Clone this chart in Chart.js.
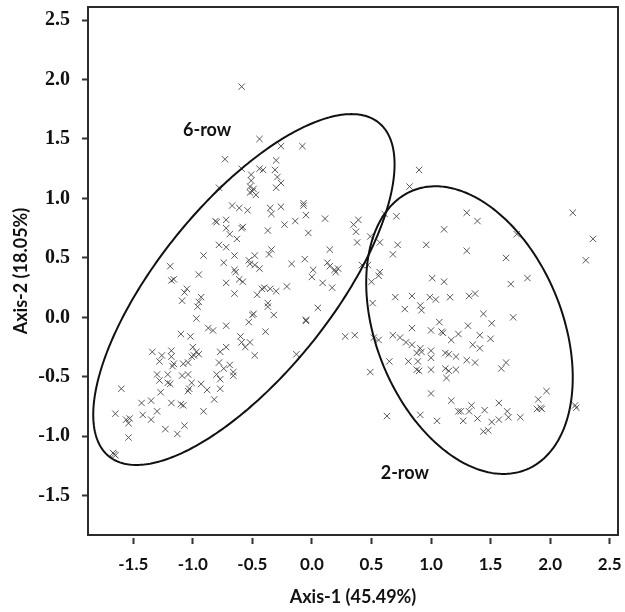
<!DOCTYPE html>
<html><head><meta charset="utf-8">
<style>html,body{margin:0;padding:0;background:#fff;}#wrap{width:625px;height:612px;}</style>
<script src="https://cdn.jsdelivr.net/npm/chart.js@4.4.0/dist/chart.umd.min.js"></script>
</head><body><div id="wrap"><canvas id="c" width="625" height="612"></canvas></div>
<script>
// PCA scores: Axis-1 (x) and Axis-2 (y)
const axis1 = [
 -0.59,-0.44,-0.26,-0.08,-0.73,-0.30,-0.59,-0.44,-0.41,-0.31,-0.51,-0.29,-0.51,-0.26,-0.30,-0.78,-0.52,-0.50,-0.49,-0.52,-0.47,0.90,0.82,
 -0.67,-0.61,-0.54,-0.81,-0.80,-0.72,-0.58,-0.59,-0.72,-0.69,-0.63,-0.78,-0.72,-0.91,-0.65,-0.48,-0.53,-0.52,-0.48,-0.74,-1.19,-0.65,
 -0.95,-0.64,-0.61,-0.58,-0.72,-1.16,-1.18,-0.46,-0.65,-1.05,-1.07,-1.09,-0.93,-0.95,-0.96,-0.49,-0.50,-0.53,-0.97,-0.87,-0.83,-0.72,
 -1.10,-1.02,-0.60,-0.59,-0.52,-0.56,-0.72,-1.00,-0.97,-0.95,-0.99,-1.01,-1.18,-1.34,-1.26,-1.18,-0.77,-0.48,-1.28,-1.16,-1.17,-1.08,
 -1.04,-0.78,-0.69,-0.74,-1.30,-1.21,-1.09,-0.80,-0.66,-0.66,-1.04,-0.77,-1.60,-1.28,-1.21,-1.19,-1.27,-1.01,-1.03,-1.04,-0.93,-0.88,
 -0.77,-0.82,-1.43,-1.35,-1.18,-1.10,-1.08,-1.65,-1.42,-1.30,-0.91,-1.56,-1.53,-1.54,-1.35,-1.07,-1.23,-1.13,-1.54,-1.67,-1.65,-1.66,
 -0.35,-0.34,-0.26,-0.07,-0.07,-0.05,-0.14,-0.23,-0.37,-0.03,0.11,0.35,0.39,0.37,0.38,0.49,0.57,0.61,0.71,0.72,0.68,0.96,0.15,-0.34,
 -0.36,-0.06,-0.17,0.13,0.15,0.19,0.22,0.20,0.01,0.00,0.09,0.17,-0.44,0.42,0.47,0.57,0.56,0.50,1.01,-0.21,-0.40,-0.35,-0.30,-0.42,
 0.70,0.84,0.99,-0.37,-0.37,-0.32,0.05,0.51,0.78,0.91,0.92,-0.05,-0.05,-0.39,0.28,0.36,0.52,0.56,0.68,0.74,0.79,0.84,1.00,0.84,0.91,
 0.88,0.92,1.00,-0.13,0.65,0.81,0.89,0.88,0.90,0.49,1.00,
 1.30,2.19,1.39,1.11,1.72,2.36,2.30,1.30,1.63,1.11,1.67,1.81,1.04,1.16,1.32,1.37,1.44,1.51,1.69,1.07,1.09,1.10,1.31,1.23,1.17,1.41,
 1.50,1.35,1.41,1.00,1.12,1.15,1.21,1.30,1.37,1.12,1.15,1.21,1.63,1.59,1.13,1.00,1.17,1.23,1.25,1.34,1.32,1.45,1.57,1.64,1.65,1.05,
 1.27,1.39,1.51,1.57,1.75,1.44,1.48,1.90,1.97,1.89,1.93,1.92,2.22,2.21,0.63,0.91
];
const axis2 = [
 1.94,1.50,1.44,1.44,1.33,1.32,1.25,1.25,1.24,1.24,1.20,1.18,1.15,1.13,1.09,1.09,1.10,1.06,1.08,1.05,1.03,1.24,1.10,
 0.94,0.92,0.90,0.81,0.80,0.82,0.76,0.75,0.75,0.70,0.66,0.61,0.59,0.52,0.52,0.52,0.48,0.45,0.44,0.46,0.43,0.40,
 0.36,0.38,0.32,0.30,0.29,0.32,0.31,0.19,0.20,0.24,0.21,0.14,0.17,0.13,0.09,0.03,0.02,-0.04,-0.01,-0.09,-0.11,-0.07,
 -0.14,-0.16,-0.16,-0.21,-0.21,-0.25,-0.25,-0.25,-0.29,-0.31,-0.32,-0.33,-0.28,-0.29,-0.32,-0.33,-0.29,-0.32,-0.37,-0.39,-0.41,-0.39,
 -0.38,-0.38,-0.40,-0.43,-0.48,-0.48,-0.49,-0.48,-0.46,-0.49,-0.48,-0.52,-0.60,-0.53,-0.55,-0.56,-0.63,-0.55,-0.60,-0.62,-0.56,-0.61,
 -0.60,-0.69,-0.72,-0.70,-0.72,-0.73,-0.74,-0.81,-0.82,-0.79,-0.79,-0.86,-0.85,-0.89,-0.86,-0.91,-0.94,-0.98,-1.01,-1.14,-1.16,-1.15,
 0.92,0.87,0.93,0.96,0.94,0.86,0.81,0.78,0.73,0.71,0.83,0.78,0.82,0.72,0.63,0.68,0.63,0.87,0.85,0.61,0.53,0.61,0.57,0.57,
 0.53,0.49,0.45,0.46,0.43,0.40,0.41,0.38,0.40,0.34,0.29,0.25,0.41,0.44,0.44,0.38,0.35,0.30,0.33,0.26,0.25,0.24,0.22,0.24,
 0.17,0.18,0.17,0.12,0.09,0.02,0.08,0.12,0.07,0.10,0.06,-0.02,-0.03,-0.12,-0.16,-0.15,-0.17,-0.19,-0.15,-0.17,-0.21,-0.09,-0.11,-0.23,-0.26,
 -0.30,-0.29,-0.28,-0.31,-0.37,-0.37,-0.37,-0.44,-0.45,-0.46,-0.44,
 0.88,0.88,0.81,0.74,0.70,0.66,0.48,0.56,0.50,0.30,0.28,0.33,0.15,0.17,0.18,0.20,0.03,-0.05,0.00,-0.04,-0.12,-0.13,-0.07,-0.14,-0.19,-0.15,
 -0.18,-0.23,-0.26,-0.34,-0.30,-0.31,-0.33,-0.36,-0.38,-0.43,-0.45,-0.44,-0.38,-0.43,-0.51,-0.64,-0.70,-0.79,-0.79,-0.74,-0.79,-0.78,-0.72,-0.79,-0.84,-0.87,
 -0.87,-0.85,-0.88,-0.86,-0.84,-0.96,-0.95,-0.69,-0.62,-0.77,-0.77,-0.76,-0.76,-0.74,-0.83,-0.82
];
const xTickValues = [-1.5,-1.0,-0.5,0.0,0.5,1.0,1.5,2.0,2.5];
const yTickValues = [-1.5,-1.0,-0.5,0.0,0.5,1.0,1.5,2.0,2.5];
const xRange = [-1.88, 2.57];
const yRange = [-1.83, 2.61];
const groupNames = ['6-row','2-row'];
const groupNameAt = [[-0.88,1.57],[0.78,-1.31]];
const ellipseCenters = [[-0.571,0.234],[1.323,-0.107]];
const ellipseSemiAxes = [[1.803,0.725],[1.266,0.782]];
const ellipseAngles = [51.1,-67.9];

const points = axis1.map((x,i)=>({x:x, y:axis2[i]}));
const sansBold = {family:'Lato', weight:'bold', size:17};
const titleFont = {family:'Lato', weight:'bold', size:18};

const overlay = {
  id:'overlay',
  afterDatasetsDraw(chart){
    const {ctx, chartArea:ca, scales} = chart;
    const sx = scales.x, sy = scales.y;
    ctx.save();
    ctx.strokeStyle = '#111'; ctx.lineWidth = 2;
    ellipseCenters.forEach((c,k)=>{
      const a = ellipseSemiAxes[k][0], b = ellipseSemiAxes[k][1];
      const th = ellipseAngles[k]*Math.PI/180;
      ctx.beginPath();
      for(let i=0;i<=360;i++){
        const t = i*Math.PI/180;
        const dx = a*Math.cos(t), dy = b*Math.sin(t);
        const X = c[0] + dx*Math.cos(th) - dy*Math.sin(th);
        const Y = c[1] + dx*Math.sin(th) + dy*Math.cos(th);
        const px = sx.getPixelForValue(X), py = sy.getPixelForValue(Y);
        if(i===0) ctx.moveTo(px,py); else ctx.lineTo(px,py);
      }
      ctx.closePath(); ctx.stroke();
    });
    ctx.fillStyle = '#111';
    ctx.font = 'bold 18px Lato';
    ctx.textAlign = 'center'; ctx.textBaseline = 'middle';
    groupNames.forEach((n,k)=>{
      ctx.fillText(n, sx.getPixelForValue(groupNameAt[k][0]), sy.getPixelForValue(groupNameAt[k][1]));
    });
    ctx.strokeStyle = '#2b2b2b'; ctx.lineWidth = 2;
    ctx.strokeRect(ca.left, ca.top, ca.right-ca.left, ca.bottom-ca.top);
    ctx.restore();
  }
};

function build(){
  new Chart(document.getElementById('c'), {
    type:'scatter',
    data:{ datasets:[{
      data: points,
      pointStyle:'crossRot',
      pointRadius:4.5, pointHoverRadius:4.5,
      borderColor:'rgba(60,60,60,0.85)',
      backgroundColor:'rgba(0,0,0,0)',
      borderWidth:1
    }]},
    options:{
      responsive:false, animation:false,
      layout:{ padding:{top:7,right:7,left:0,bottom:0} },
      plugins:{ legend:{display:false}, tooltip:{enabled:false} },
      scales:{
        x:{
          type:'linear', min:xRange[0], max:xRange[1],
          afterBuildTicks: s => { s.ticks = xTickValues.map(v=>({value:v})); },
          afterFit: s => { s.height = 77; s.paddingLeft = 0; s.paddingRight = 0; },
          grid:{ drawOnChartArea:false, drawTicks:true, tickLength:9, tickColor:'#333', tickWidth:2, tickBorderDash:[0,3,6,20] },
          border:{ display:false },
          ticks:{ padding:10, color:'#111', font:sansBold, maxRotation:0, autoSkip:false, callback: v => Number(v).toFixed(1) },
          title:{ display:true, text:'Axis-1 (45.49%)', color:'#111', font:titleFont, padding:4 }
        },
        y:{
          type:'linear', min:yRange[0], max:yRange[1],
          afterBuildTicks: s => { s.ticks = yTickValues.map(v=>({value:v})); },
          afterFit: s => { s.width = 88; s.paddingTop = 0; s.paddingBottom = 0; },
          grid:{ drawOnChartArea:false, drawTicks:true, tickLength:6, tickColor:'#333', tickWidth:2 },
          border:{ display:false },
          ticks:{ padding:12, color:'#111', font:{family:'Liberation Serif', weight:'bold', size:20}, autoSkip:false, callback: v => Number(v).toFixed(1) },
          title:{ display:true, text:'Axis-2 (18.05%)', color:'#111', font:titleFont, padding:10 }
        }
      }
    },
    plugins:[overlay]
  });
}
const fl = [document.fonts.load('bold 17px Lato'), document.fonts.load('bold 20px "Liberation Serif"')];
Promise.all(fl).then(build, build);
</script>
</body></html>
